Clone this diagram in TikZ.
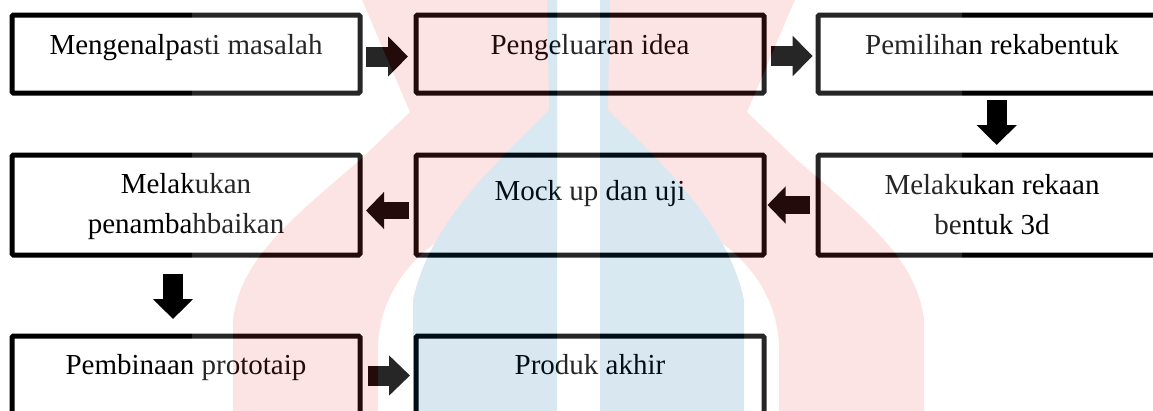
\documentclass[tikz,border=0pt]{standalone}
\usepackage{fontspec}
\setmainfont{Liberation Serif}
\usetikzlibrary{arrows.meta,calc}
\definecolor{wmred}{RGB}{235,75,75}
\definecolor{wmblue}{RGB}{0,107,160}
\newcommand{\bxt}[3]{\parbox[c][#1][t]{348pt}{\centering\fontsize{29pt}{40pt}\selectfont\rule{0pt}{#2}#3\par}}
\newcommand{\wmhalf}{%
  \fill[wmred] (360,-5) -- (410,112) -- (360,160)
    .. controls (290,220) and (240,260) .. (233,320) -- (233,420) -- (378,420) -- (378,345)
    .. controls (380,300) and (405,265) .. (434.5,243.6) -- (557,243.6) -- (557,-5) -- cycle;
  \fill[wmblue] (547,-5) -- (549,110) .. controls (500,160) and (430,220) .. (413,300)
    -- (413,420) -- (557,420) -- (557,-5) -- cycle;
}
\tikzset{
  stepbox/.style={draw=black, line width=5pt, rounded corners=1.5pt, fill=white, inner sep=0pt},
  blockarrow/.style={draw=black, line width=20pt, -{Triangle[length=20pt,width=39pt]}},
  blockarrowsm/.style={draw=black, line width=17.5pt, -{Triangle[length=18pt,width=36pt]}},
}
\begin{document}
\begin{tikzpicture}[x=1pt,y=-1pt]
\useasboundingbox (0,0) rectangle (1153,410);
\clip (0,0) rectangle (1153,410);
% boxes
\node[stepbox] (b1) at (186,54) {\bxt{78pt}{39pt}{Mengenalpasti masalah}};
\node[stepbox] (b2) at (590,54) {\bxt{78pt}{39pt}{Pengeluaran idea}};
\node[stepbox] (b3) at (992,54) {\bxt{78pt}{39pt}{Pemilihan rekabentuk}};
\node[stepbox] (b4) at (186,205) {\bxt{100pt}{38pt}{Melakukan\\penambahbaikan}};
\node[stepbox] (b5) at (590,205) {\bxt{100pt}{45pt}{Mock up dan uji}};
\node[stepbox] (b6) at (992,205) {\bxt{100pt}{39pt}{Melakukan rekaan\\bentuk 3d}};
\node[stepbox] (b7) at (186,375) {\bxt{78pt}{38pt}{Pembinaan prototaip}};
\node[stepbox] (b8) at (590,375) {\bxt{78pt}{38pt}{Produk akhir}};
% arrows
\draw[blockarrow, shorten <=3.5pt, shorten >=5.5pt] ([yshift=-2.5pt]b1.east) -- ([yshift=-2.5pt]b2.west);
\draw[blockarrow, shorten <=4.2pt, shorten >=2.8pt] ([yshift=-2pt]b2.east) -- ([yshift=-2pt]b3.west);
\draw[blockarrow, shorten <=4.5pt, shorten >=7.5pt] ([xshift=4.7pt]b3.south) -- ([xshift=4.7pt]b6.north);
\draw[blockarrowsm, shorten <=5.5pt, shorten >=1pt] (b6.west) -- (b5.east);
\draw[blockarrowsm, shorten <=5pt, shorten >=3.5pt] ([yshift=-5.5pt]b5.west) -- ([yshift=-5.5pt]b4.east);
\draw[blockarrow, shorten <=16pt, shorten >=14.5pt] ([xshift=-13pt]b4.south) -- ([xshift=-13pt]b7.north);
\draw[blockarrow, -{Triangle[length=21pt,width=39pt]}, shorten <=5pt, shorten >=3.5pt] ([yshift=-0.5pt]b7.east) -- ([yshift=-0.5pt]b8.west);
% watermark
\begin{scope}[transparency group, opacity=0.15]
  \fill[white] (192,-5) rectangle (962,420);
  \wmhalf
  \begin{scope}[shift={(1157,0)}, xscale=-1]
    \wmhalf
  \end{scope}
\end{scope}
\end{tikzpicture}
\end{document}
